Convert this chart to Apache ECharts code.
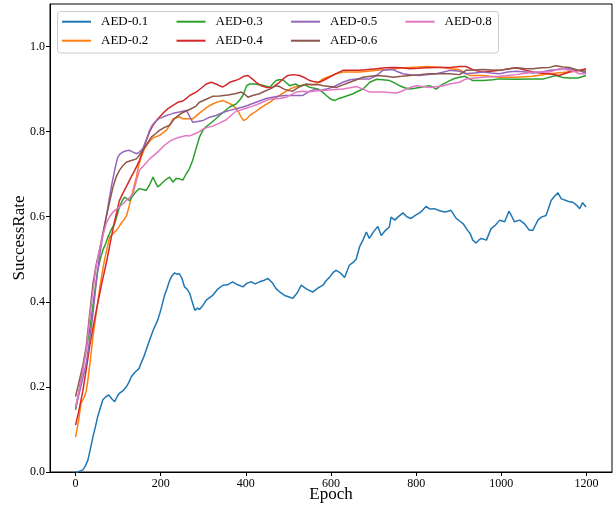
<!DOCTYPE html>
<html>
<head>
<meta charset="utf-8">
<script src="https://cdn.jsdelivr.net/npm/echarts@6/dist/echarts.min.js"></script>
<style>html,body{margin:0;padding:0;background:#fff;}#chart{width:613px;height:508px;}</style>
</head>
<body>
<div id="chart"></div>
<script>
const seriesNames = ['AED-0.1','AED-0.2','AED-0.3','AED-0.4','AED-0.5','AED-0.6','AED-0.8'];
const xTicks = [0,200,400,600,800,1000,1200];
const yTicks = [0,0.2,0.4,0.6,0.8,1.0];

const aed01 = [[0,0],[5,0],[17,0.005],[22,0.012],[29,0.028],[35,0.055],[41,0.083],[47,0.108],[52,0.13],[58,0.15],[64,0.169],[70,0.176],[78,0.181],[85,0.172],[92,0.165],[98,0.178],[103,0.185],[110,0.19],[119,0.2],[125,0.21],[131,0.224],[140,0.235],[149,0.243],[154,0.256],[160,0.27],[167,0.29],[174,0.31],[183,0.335],[193,0.357],[200,0.38],[209,0.415],[215,0.432],[221,0.45],[227,0.462],[233,0.468],[238,0.465],[244,0.466],[250,0.455],[256,0.435],[262,0.43],[268,0.42],[274,0.4],[280,0.38],[286,0.385],[291,0.382],[298,0.39],[307,0.404],[315,0.41],[322,0.415],[334,0.43],[346,0.439],[357,0.44],[369,0.447],[381,0.44],[393,0.435],[403,0.444],[413,0.447],[422,0.442],[432,0.447],[442,0.45],[452,0.455],[462,0.445],[471,0.431],[481,0.422],[491,0.415],[500,0.412],[510,0.408],[520,0.42],[530,0.439],[543,0.43],[557,0.423],[569,0.432],[581,0.439],[589,0.45],[597,0.458],[606,0.47],[612,0.474],[622,0.468],[632,0.457],[643,0.486],[651,0.492],[659,0.5],[667,0.529],[675,0.545],[683,0.564],[690,0.549],[700,0.565],[710,0.577],[718,0.556],[728,0.568],[737,0.576],[741,0.599],[750,0.592],[757,0.599],[769,0.609],[778,0.6],[788,0.596],[798,0.603],[808,0.609],[815,0.615],[823,0.624],[833,0.618],[843,0.619],[855,0.614],[867,0.611],[875,0.613],[882,0.615],[894,0.596],[902,0.59],[910,0.584],[921,0.568],[927,0.56],[933,0.545],[941,0.538],[947,0.545],[953,0.549],[965,0.545],[976,0.572],[986,0.58],[996,0.592],[1002,0.59],[1008,0.588],[1018,0.613],[1025,0.6],[1031,0.588],[1043,0.592],[1054,0.584],[1066,0.568],[1074,0.568],[1080,0.58],[1086,0.592],[1094,0.599],[1105,0.603],[1111,0.62],[1117,0.638],[1125,0.648],[1133,0.656],[1141,0.642],[1152,0.638],[1160,0.635],[1168,0.634],[1176,0.628],[1184,0.619],[1191,0.633],[1199,0.623]];

const aed02 = [[0,0.082],[7,0.12],[13,0.162],[21,0.177],[25,0.19],[29,0.216],[35,0.265],[41,0.318],[48,0.37],[56,0.427],[62,0.465],[68,0.498],[74,0.525],[80,0.552],[88,0.56],[96,0.568],[101,0.575],[107,0.584],[113,0.592],[120,0.603],[126,0.625],[131,0.646],[137,0.67],[143,0.693],[148,0.72],[154,0.74],[162,0.76],[170,0.772],[178,0.782],[186,0.787],[197,0.791],[205,0.797],[213,0.803],[221,0.815],[229,0.83],[244,0.835],[252,0.83],[265,0.83],[275,0.83],[287,0.84],[299,0.85],[310,0.858],[322,0.865],[334,0.87],[346,0.873],[358,0.868],[369,0.862],[376,0.856],[381,0.85],[388,0.836],[395,0.826],[402,0.83],[409,0.838],[420,0.845],[432,0.854],[444,0.862],[456,0.869],[467,0.877],[479,0.885],[491,0.893],[503,0.9],[515,0.905],[526,0.908],[538,0.91],[550,0.91],[565,0.912],[581,0.924],[597,0.93],[613,0.936],[628,0.94],[648,0.94],[667,0.94],[687,0.942],[707,0.944],[730,0.946],[750,0.948],[770,0.95],[785,0.951],[805,0.952],[824,0.953],[845,0.952],[863,0.951],[880,0.948],[900,0.946],[912,0.94],[925,0.932],[957,0.932],[996,0.928],[1035,0.928],[1074,0.93],[1113,0.936],[1155,0.94],[1199,0.946]];

const aed03 = [[0,0.146],[10,0.2],[20,0.26],[33,0.333],[42,0.4],[52,0.474],[58,0.5],[64,0.521],[70,0.535],[76,0.552],[84,0.57],[92,0.584],[98,0.605],[103,0.623],[109,0.636],[115,0.646],[121,0.642],[127,0.638],[135,0.65],[143,0.66],[150,0.666],[158,0.664],[166,0.662],[174,0.675],[182,0.693],[188,0.68],[193,0.67],[199,0.675],[205,0.681],[213,0.688],[221,0.693],[229,0.681],[236,0.69],[244,0.689],[252,0.686],[260,0.701],[267,0.712],[275,0.732],[283,0.76],[291,0.787],[299,0.803],[307,0.812],[315,0.818],[327,0.828],[338,0.838],[350,0.848],[362,0.858],[377,0.865],[386,0.875],[393,0.885],[398,0.898],[402,0.908],[409,0.912],[420,0.912],[432,0.91],[444,0.908],[456,0.904],[463,0.912],[471,0.92],[479,0.922],[487,0.922],[495,0.915],[503,0.908],[517,0.912],[526,0.907],[538,0.91],[550,0.904],[570,0.9],[580,0.893],[589,0.885],[600,0.876],[609,0.873],[618,0.878],[628,0.881],[640,0.885],[652,0.889],[663,0.895],[675,0.9],[683,0.908],[691,0.916],[707,0.923],[722,0.922],[738,0.92],[750,0.914],[761,0.908],[773,0.903],[785,0.9],[797,0.902],[808,0.904],[820,0.906],[832,0.908],[840,0.904],[847,0.9],[860,0.91],[879,0.92],[890,0.925],[902,0.928],[915,0.93],[933,0.92],[957,0.92],[980,0.922],[996,0.924],[1035,0.923],[1074,0.924],[1100,0.924],[1128,0.932],[1145,0.927],[1160,0.926],[1180,0.926],[1199,0.932]];

const aed04 = [[0,0.11],[7,0.14],[17,0.19],[25,0.24],[33,0.294],[42,0.345],[52,0.396],[62,0.445],[72,0.49],[78,0.52],[84,0.552],[93,0.595],[103,0.638],[111,0.655],[119,0.67],[129,0.69],[139,0.709],[150,0.732],[158,0.755],[166,0.779],[174,0.8],[182,0.815],[190,0.826],[197,0.834],[207,0.845],[217,0.854],[229,0.862],[240,0.869],[252,0.872],[260,0.878],[268,0.885],[283,0.893],[295,0.902],[307,0.912],[319,0.916],[330,0.912],[338,0.908],[346,0.905],[354,0.91],[362,0.916],[375,0.92],[385,0.924],[395,0.93],[405,0.932],[415,0.924],[424,0.916],[436,0.908],[448,0.904],[463,0.904],[471,0.91],[479,0.916],[489,0.925],[499,0.932],[512,0.934],[526,0.932],[540,0.926],[550,0.92],[562,0.917],[573,0.916],[585,0.922],[597,0.928],[613,0.937],[628,0.944],[648,0.944],[667,0.944],[687,0.946],[707,0.948],[727,0.95],[746,0.951],[766,0.95],[785,0.948],[805,0.949],[824,0.95],[845,0.951],[863,0.951],[880,0.951],[902,0.953],[917,0.953],[937,0.944],[957,0.94],[976,0.942],[996,0.944],[1015,0.947],[1035,0.95],[1058,0.944],[1089,0.938],[1113,0.936],[1136,0.932],[1160,0.94],[1183,0.944],[1199,0.948]];

const aed05 = [[0,0.15],[10,0.19],[25,0.255],[33,0.31],[41,0.372],[48,0.44],[56,0.505],[64,0.555],[72,0.599],[78,0.635],[84,0.67],[92,0.71],[99,0.74],[105,0.748],[111,0.752],[119,0.755],[127,0.756],[135,0.752],[143,0.748],[150,0.752],[158,0.76],[166,0.78],[174,0.803],[180,0.815],[186,0.822],[195,0.83],[205,0.834],[213,0.838],[221,0.84],[232,0.844],[244,0.846],[252,0.848],[260,0.85],[267,0.838],[275,0.822],[287,0.824],[299,0.826],[315,0.834],[330,0.838],[346,0.845],[362,0.85],[377,0.854],[393,0.858],[405,0.862],[416,0.866],[432,0.872],[448,0.878],[463,0.881],[479,0.884],[495,0.885],[515,0.885],[534,0.885],[550,0.895],[565,0.9],[573,0.897],[589,0.9],[605,0.905],[628,0.916],[645,0.922],[660,0.924],[691,0.924],[707,0.932],[722,0.944],[746,0.946],[758,0.94],[769,0.936],[790,0.933],[808,0.932],[830,0.934],[847,0.936],[865,0.94],[879,0.944],[902,0.942],[917,0.936],[937,0.938],[957,0.94],[976,0.938],[996,0.936],[1015,0.94],[1035,0.942],[1058,0.94],[1074,0.938],[1095,0.94],[1113,0.944],[1136,0.946],[1160,0.948],[1180,0.944],[1199,0.938]];

const aed06 = [[0,0.177],[10,0.22],[17,0.25],[25,0.294],[33,0.37],[41,0.443],[48,0.485],[56,0.521],[64,0.56],[72,0.599],[80,0.635],[88,0.67],[96,0.695],[103,0.709],[111,0.72],[119,0.728],[131,0.732],[143,0.736],[150,0.745],[158,0.756],[168,0.772],[178,0.787],[188,0.795],[197,0.803],[209,0.81],[221,0.815],[232,0.83],[244,0.84],[252,0.845],[268,0.852],[283,0.86],[291,0.869],[307,0.876],[322,0.883],[338,0.884],[358,0.886],[375,0.889],[389,0.893],[397,0.888],[405,0.881],[416,0.885],[432,0.889],[444,0.895],[456,0.9],[471,0.908],[479,0.906],[490,0.9],[499,0.897],[510,0.895],[525,0.905],[542,0.912],[557,0.91],[573,0.91],[581,0.908],[597,0.906],[613,0.904],[628,0.91],[644,0.916],[660,0.922],[675,0.928],[707,0.932],[730,0.93],[746,0.928],[766,0.93],[785,0.932],[808,0.934],[830,0.936],[855,0.936],[878,0.936],[902,0.934],[917,0.944],[937,0.945],[957,0.946],[976,0.945],[996,0.944],[1015,0.947],[1035,0.95],[1058,0.948],[1074,0.948],[1095,0.95],[1113,0.951],[1128,0.955],[1145,0.952],[1160,0.951],[1175,0.946],[1183,0.944],[1199,0.942]];

const aed08 = [[0,0.153],[10,0.2],[25,0.286],[33,0.36],[41,0.427],[48,0.48],[56,0.521],[64,0.555],[72,0.584],[80,0.6],[88,0.611],[96,0.618],[103,0.623],[111,0.63],[119,0.638],[127,0.645],[135,0.654],[143,0.685],[150,0.709],[162,0.722],[174,0.736],[186,0.746],[197,0.756],[209,0.768],[221,0.777],[232,0.783],[244,0.787],[260,0.791],[268,0.79],[280,0.795],[291,0.8],[299,0.806],[310,0.81],[322,0.813],[338,0.82],[354,0.828],[365,0.838],[377,0.848],[385,0.85],[400,0.855],[416,0.86],[432,0.866],[448,0.873],[456,0.877],[479,0.878],[495,0.881],[507,0.887],[518,0.893],[535,0.895],[550,0.894],[570,0.896],[589,0.897],[610,0.899],[628,0.9],[645,0.903],[660,0.906],[675,0.9],[691,0.893],[722,0.893],[754,0.891],[766,0.895],[777,0.9],[790,0.905],[800,0.908],[816,0.906],[832,0.904],[850,0.906],[865,0.908],[878,0.912],[902,0.916],[917,0.924],[937,0.926],[957,0.928],[976,0.929],[996,0.93],[1015,0.932],[1035,0.934],[1058,0.937],[1074,0.94],[1095,0.94],[1113,0.94],[1125,0.944],[1136,0.948],[1150,0.946],[1160,0.944],[1175,0.94],[1183,0.936],[1199,0.936]];

const seriesData = [aed01, aed02, aed03, aed04, aed05, aed06, aed08];
const colors = ['#1f77b4','#ff7f0e','#2ca02c','#d62728','#9467bd','#8c564b','#e377c2'];

const FONT = "'Liberation Serif', 'DejaVu Serif', serif";
const chart = echarts.init(document.getElementById('chart'), null, {renderer: 'canvas'});

const legendCols = [[0,1],[2,3],[4,5],[6]];
const legendX = [62, 176.5, 291, 405.5];
const legends = legendCols.map((col, i) => ({
  orient: 'vertical',
  left: legendX[i],
  top: 14.7,
  padding: 0,
  itemGap: 5,
  itemWidth: 29,
  itemHeight: 2,
  icon: 'rect',
  data: col.map(k => seriesNames[k]),
  textStyle: {fontFamily: FONT, fontSize: 13, color: '#000', lineHeight: 14, padding: [0, 0, 0, 5]},
  z: 5
}));

chart.setOption({
  animation: false,
  color: colors,
  grid: {left: 50, top: 4, width: 562, height: 468, outerBoundsMode: 'none', containLabel: false,
    show: true, borderColor: '#000', borderWidth: 1, backgroundColor: 'transparent'},
  graphic: [{
    type: 'rect', z: 4,
    shape: {x: 57.5, y: 11.5, width: 441, height: 41.5, r: 3},
    style: {fill: 'rgba(255,255,255,0.8)', stroke: '#cccccc', lineWidth: 1}
  }],
  legend: legends,
  xAxis: {
    type: 'value', min: -60, max: 1260,
    name: 'Epoch', nameLocation: 'middle', nameGap: 14, nameMoveOverlap: false,
    nameTextStyle: {fontFamily: FONT, fontSize: 17, color: '#000'},
    axisLine: {show: true, onZero: false, lineStyle: {color: '#000', width: 1}},
    axisTick: {show: true, inside: false, length: 4, customValues: xTicks, lineStyle: {color: '#000'}},
    axisLabel: {customValues: xTicks, fontFamily: FONT, fontSize: 12, color: '#000', margin: 6,
      formatter: v => String(v)},
    splitLine: {show: false}
  },
  yAxis: {
    type: 'value', min: 0, max: 1.1,
    name: 'SuccessRate', nameLocation: 'middle', nameGap: 22, nameMoveOverlap: false,
    nameTextStyle: {fontFamily: FONT, fontSize: 17, color: '#000'},
    axisLine: {show: true, onZero: false, lineStyle: {color: '#000', width: 1}},
    axisTick: {show: true, inside: false, length: 4, customValues: yTicks, lineStyle: {color: '#000'}},
    axisLabel: {customValues: yTicks, fontFamily: FONT, fontSize: 12, color: '#000', margin: 5,
      formatter: v => v.toFixed(1)},
    splitLine: {show: false}
  },
  series: seriesNames.map((name, i) => ({
    name: name,
    type: 'line',
    data: seriesData[i],
    showSymbol: false,
    symbol: 'none',
    lineStyle: {width: 1.5, color: colors[i]},
    itemStyle: {color: colors[i]},
    z: 2 + i * 0.01
  }))
});
</script>
</body>
</html>
